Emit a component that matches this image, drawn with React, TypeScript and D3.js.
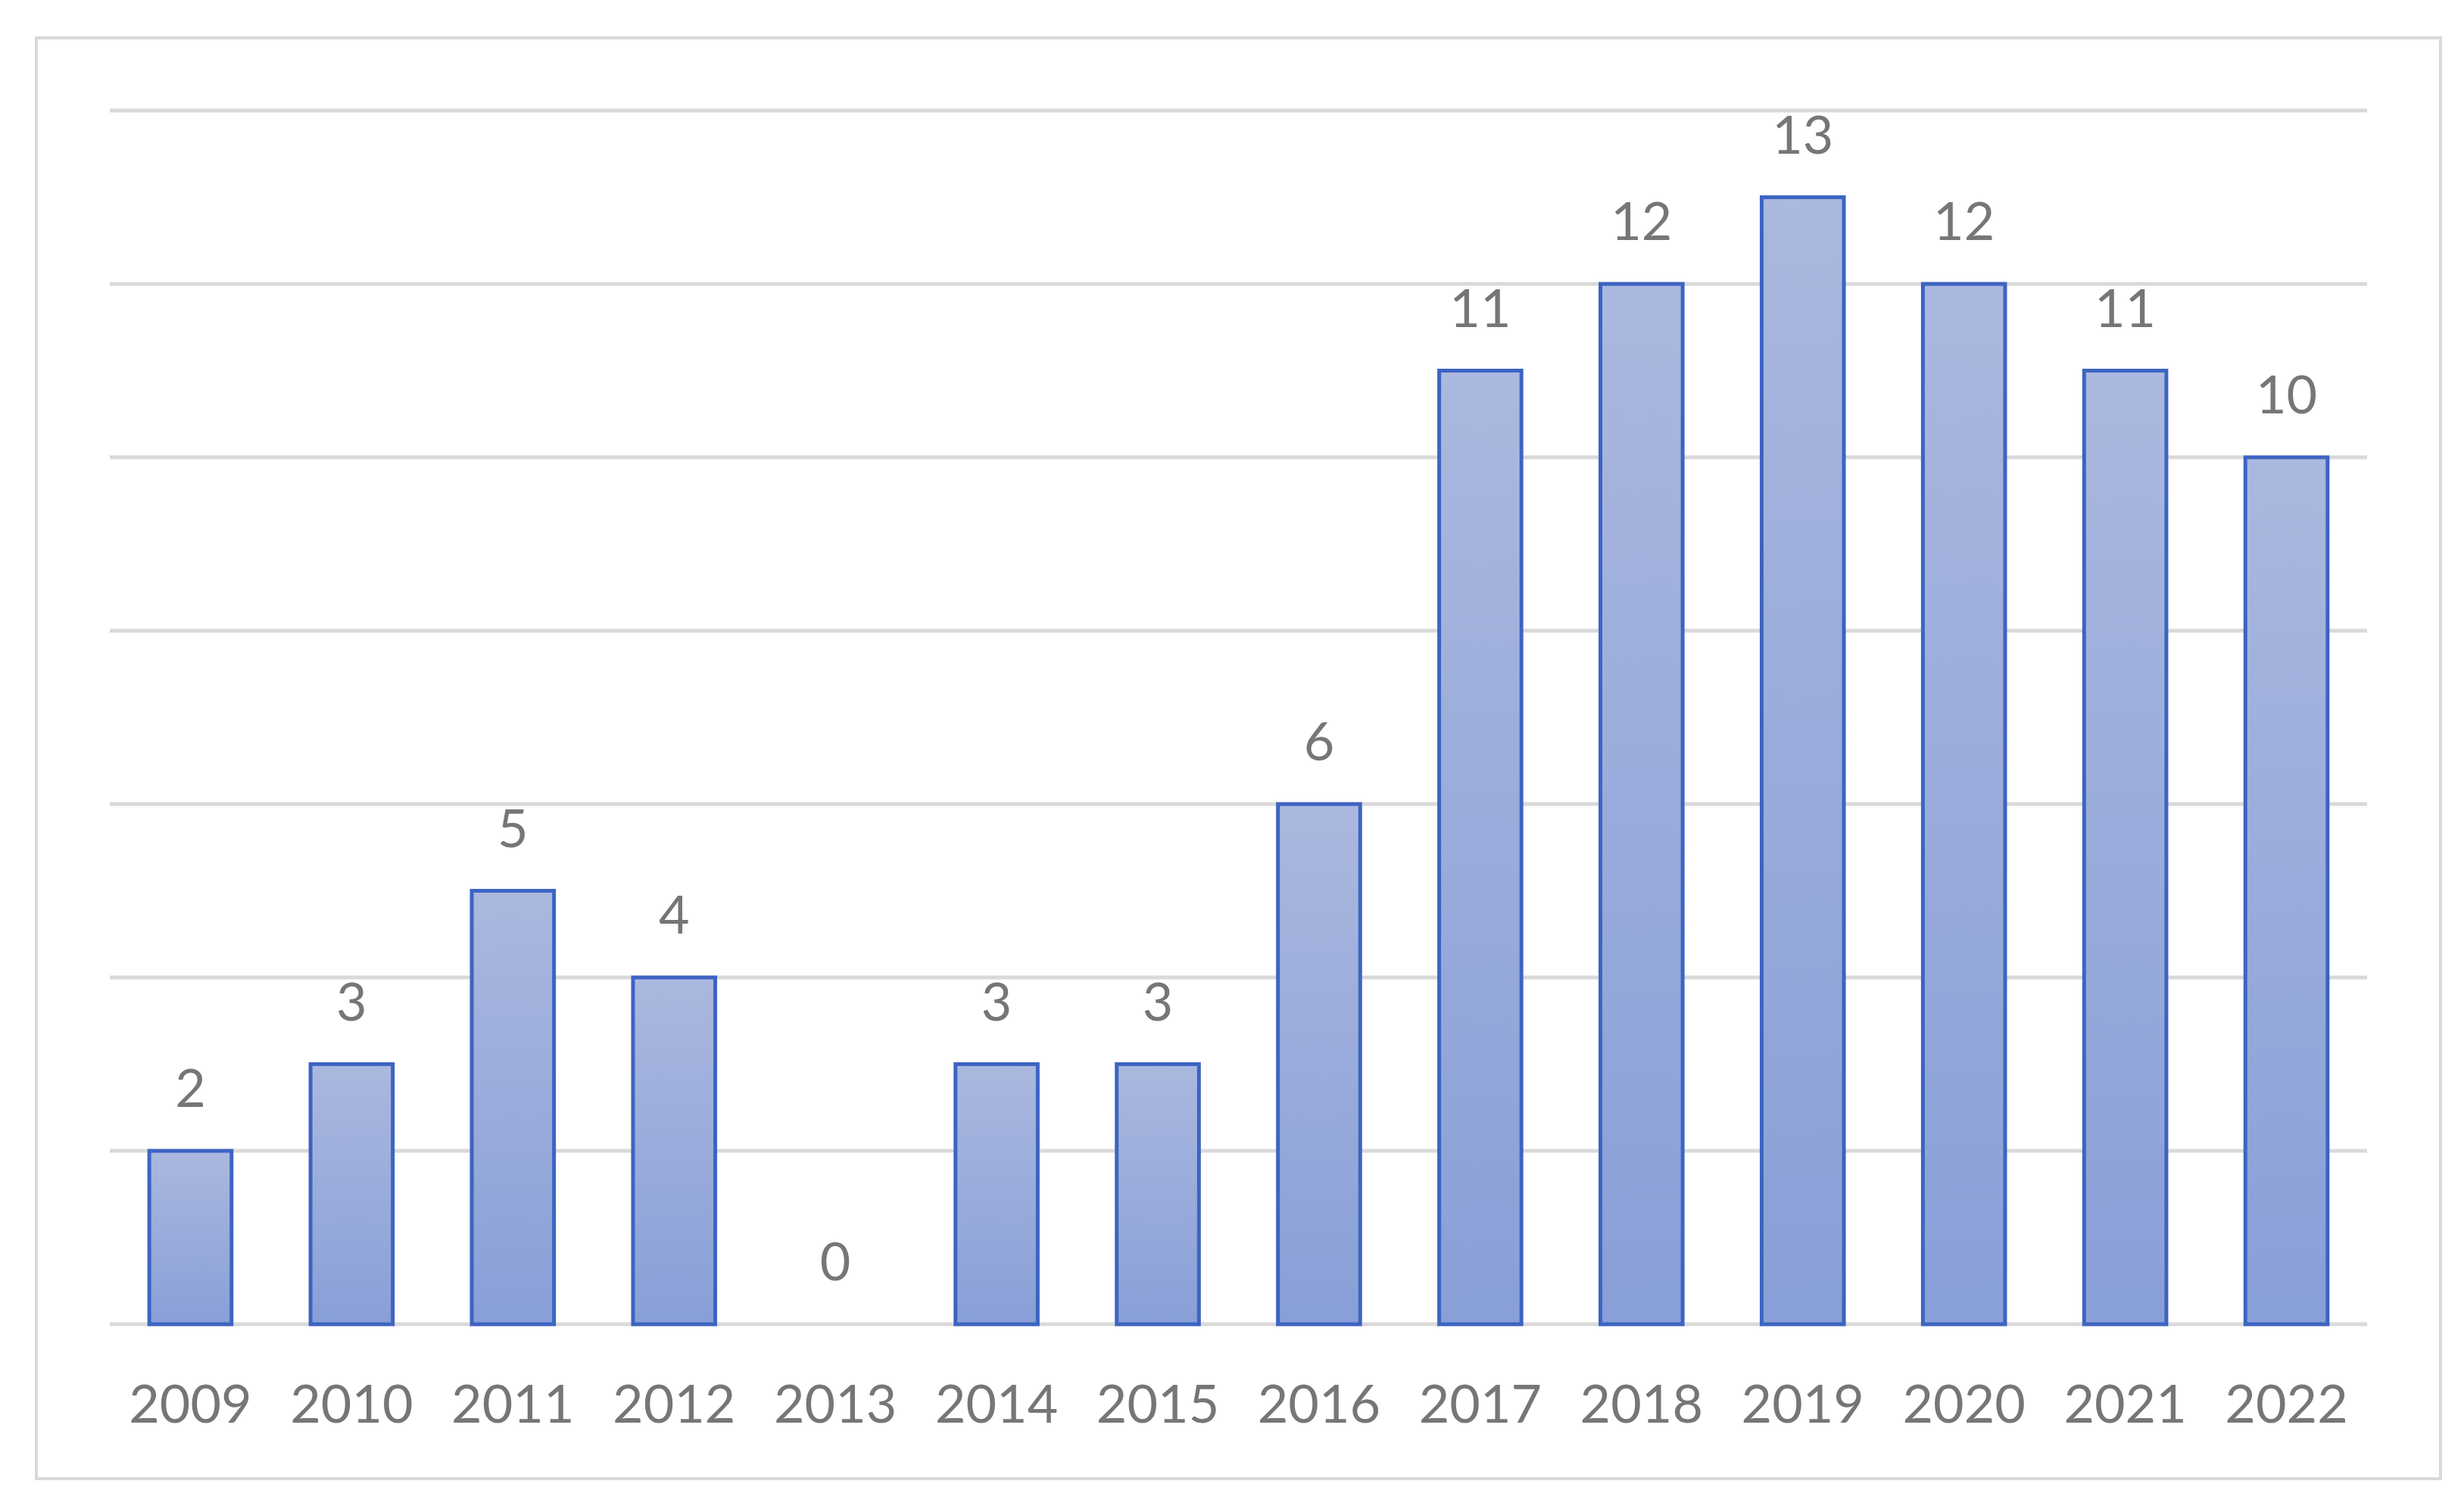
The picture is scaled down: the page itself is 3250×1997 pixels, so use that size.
import React from "react";
import * as d3 from "d3";

const years = ["2009","2010","2011","2012","2013","2014","2015","2016","2017","2018","2019","2020","2021","2022"];
const counts = [2,3,5,4,0,3,3,6,11,12,13,12,11,10];
const yTicks = [0,2,4,6,8,10,12,14];

const W = 3250, H = 1997;
const plot = { left: 145, right: 3126, top: 146, bottom: 1749 };

export default function App() {
  const x = d3.scaleBand<string>().domain(years).range([plot.left, plot.right]).paddingInner(0.49).paddingOuter(0.245);
  const y = d3.scaleLinear().domain([0, 14]).range([plot.bottom, plot.top]);
  const font = "Lato, Carlito, Calibri, sans-serif";
  return (
    <svg width={W} height={H} style={{ position: "absolute", left: 0, top: 0, background: "#fff" }}>
      <defs>
        <linearGradient id="barGrad" x1="0" y1="0" x2="0" y2="1">
          <stop offset="0" stopColor="#abb8df" />
          <stop offset="1" stopColor="#889fd7" />
        </linearGradient>
      </defs>
      <rect x={48} y={50} width={3175} height={1903} fill="#fff" stroke="#d9d9d9" strokeWidth={4} />
      {yTicks.map(t => (
        <line key={t} x1={plot.left} x2={plot.right} y1={y(t)} y2={y(t)} stroke="#d9d9d9" strokeWidth={5} />
      ))}
      {years.map((yr, i) => {
        const v = counts[i];
        const bx = x(yr)!;
        const bw = x.bandwidth();
        return (
          <g key={yr}>
            {v > 0 && (
              <rect x={bx} y={y(v)} width={bw} height={y(0) - y(v)} fill="url(#barGrad)" stroke="#3d64c2" strokeWidth={5} />
            )}
            <text x={bx + bw / 2} y={y(v) - 58} textAnchor="middle" fontFamily={font} fontSize={70} fill="#767676">{v}</text>
            <text x={bx + bw / 2} y={1879} textAnchor="middle" fontFamily={font} fontSize={70} fill="#767676">{yr}</text>
          </g>
        );
      })}
    </svg>
  );
}
